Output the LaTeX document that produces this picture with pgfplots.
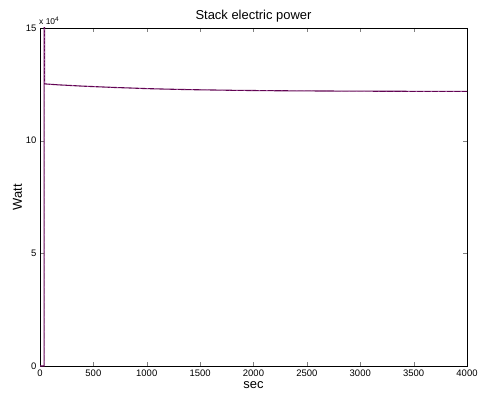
\documentclass[border=0pt]{standalone}
\usepackage{fontspec}
\setmainfont{Liberation Sans}
\usepackage{pgfplots}
\pgfplotsset{compat=1.18}
\pgfplotstableread{
t P
0 0
38 0
39 160000
43 160000
44 125200
100 125000
200 124700
300 124450
400 124200
500 124000
600 123800
700 123600
800 123450
1000 123100
1200 122850
1400 122650
1600 122500
1800 122350
2000 122250
2250 122150
2500 122080
2750 122020
3000 121970
3250 121930
3500 121900
3750 121870
4000 121850
}\powertable
\begin{document}
\begin{tikzpicture}
\begin{axis}[name=ax,
  scale only axis, width=427bp, height=338bp,
  xmin=0, xmax=4000, ymin=0, ymax=150000,
  xtick={0,500,1000,1500,2000,2500,3000,3500,4000},
  ytick={0,50000,100000,150000},
  scaled x ticks=false,
  scaled y ticks=base 10:-4,
  /pgf/number format/set thousands separator={},
  ytick scale label code/.code={x 10\textsuperscript{\fontsize{6.5}{7}\selectfont #1}},
  every y tick scale label/.style={at={(rel axis cs:0,1)},anchor=south west, inner sep=0pt, xshift=-1bp, yshift=3bp, font=\fontsize{8.5}{9}\selectfont},
  /pgf/number format/assume math mode=true,
  tick label style={font=\fontsize{9.5}{11}\selectfont},
  tick align=inside, tick pos=both, major tick length=4bp,
  axis line style={line width=0.7pt},
  title={Stack electric power}, title style={font=\fontsize{13}{15}\selectfont, yshift=-4bp},
  xlabel={sec}, ylabel={Watt},
  label style={font=\fontsize{13}{15}\selectfont},
  xlabel style={yshift=2bp}, ylabel style={yshift=-3bp},
  clip=true,
]
\addplot[color={rgb,1:red,0.38;green,0.02;blue,0.32}, line width=1.1pt] table[x=t,y=P] {\powertable};
\addplot[color={rgb,1:red,0.8;green,0.5;blue,0.8}, line width=0.4pt, dash pattern=on 1.5pt off 6pt] table[x=t,y=P] {\powertable};
\end{axis}
\pgfresetboundingbox
\path[use as bounding box] ([shift={(-40bp,-31bp)}]ax.south west) rectangle ([shift={(12bp,28bp)}]ax.north east);
\end{tikzpicture}
\end{document}
